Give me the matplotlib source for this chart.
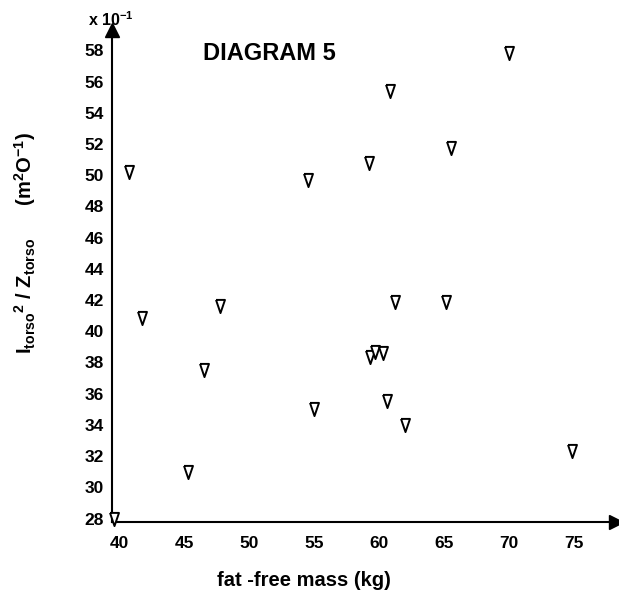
import matplotlib.pyplot as plt

plt.rcParams['font.family'] = 'Liberation Sans'
plt.rcParams['font.weight'] = 'bold'
plt.rcParams['mathtext.fontset'] = 'custom'
plt.rcParams['mathtext.rm'] = 'Liberation Sans:bold'
plt.rcParams['mathtext.bf'] = 'Liberation Sans:bold'
plt.rcParams['mathtext.default'] = 'bf'

# fat-free mass (kg) and I^2/Z (x 10^-1)
ffm = [39.6, 45.3, 40.7, 41.7, 47.7, 46.5, 54.5, 59.2, 60.8, 70.0,
       65.5, 55.0, 60.6, 62.0, 74.8, 61.2, 65.1, 59.3, 59.7, 60.3]
iz = [28.0, 31.0, 50.2, 40.85, 41.6, 37.5, 49.7, 50.8, 55.4, 57.8,
      51.75, 35.0, 35.5, 34.0, 32.3, 41.9, 41.9, 38.35, 38.7, 38.6]

xticks = [40, 45, 50, 55, 60, 65, 70, 75]
yticks = list(range(28, 59, 2))

fig = plt.figure(figsize=(6.19, 6.05), dpi=100)
ax = fig.add_axes([112 / 619, 83 / 605, 507 / 619, 492 / 605])

tri = [(-0.34, 0.5), (0.34, 0.5), (0, -0.5), (-0.34, 0.5)]
ax.plot(ffm, iz, linestyle='none', marker=tri, markersize=9.5,
        markerfacecolor='white', markeredgecolor='black', markeredgewidth=1.4,
        clip_on=False, zorder=3)

ax.set_xlim(39.42, 78.45)
ax.set_ylim(27.78, 59.3)
ax.set_xticks(xticks)
ax.set_yticks(yticks)
ax.tick_params(axis='both', length=0, labelsize=12.5)
ax.tick_params(axis='x', pad=10)
ax.tick_params(axis='y', pad=6)

for s in ['top', 'right']:
    ax.spines[s].set_visible(False)
for s in ['left', 'bottom']:
    ax.spines[s].set_linewidth(1.5)

# arrow heads on the axes
ax.plot(0, 1, marker='^', markersize=10, color='black',
        transform=ax.transAxes, clip_on=False)
ax.plot(0.995, 0, marker='>', markersize=10, color='black',
        transform=ax.transAxes, clip_on=False)

fig.text(88 / 619, 1 - 20 / 605, r'x 10$^{-1}$', fontsize=11.5,
         ha='left', va='center')
fig.text(203 / 619, 1 - 53 / 605, 'DIAGRAM 5', fontsize=17,
         ha='left', va='center')

fig.text(304 / 619, 1 - 580 / 605, 'fat -free mass (kg)', fontsize=14.5,
         ha='center', va='center')
fig.text(25 / 619, 1 - 243 / 605,
         r'I$_{torso}$$^{2}$ / Z$_{torso}$      (m$^{2}$O$^{-1}$)',
         fontsize=14.5, rotation=90, ha='center', va='center')

fig.savefig('out.png', dpi=100)
